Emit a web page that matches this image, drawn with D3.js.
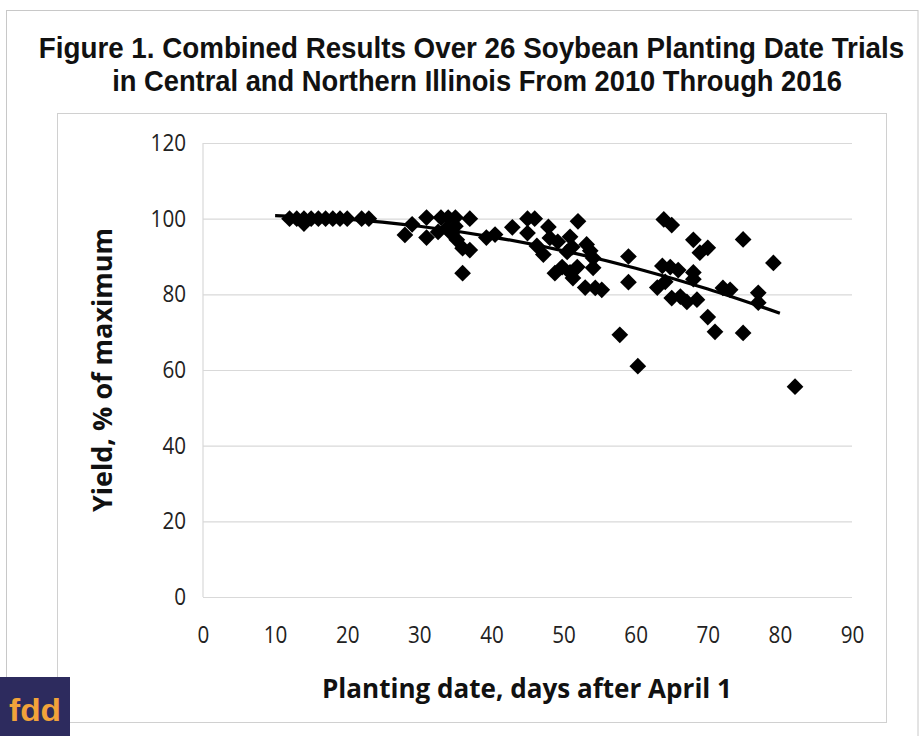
<!DOCTYPE html>
<html>
<head>
<meta charset="utf-8">
<script src="https://cdn.jsdelivr.net/npm/d3@7/dist/d3.min.js"></script>
<style>
  html, body { margin: 0; padding: 0; background: #fff; }
  svg { display: block; }
</style>
</head>
<body>
<svg id="chart" width="924" height="736"></svg>
<script>
// Planting date (days after April 1) and relative yield (% of maximum) per trial entry
const plantingDays = [
  12, 13, 14, 14, 15, 16, 17, 18, 19, 20, 22, 23,
  28, 29, 31, 31, 32.6, 33, 34, 33.8, 35, 37, 35.2, 36, 37, 36, 39.3, 40.5, 34.5, 35,
  42.9, 45, 46, 45, 47.9, 52, 46.3, 47.2, 48.1, 49.2, 50.9, 51.2, 50.5, 53.2, 53.7, 54.1,
  48.8, 49.8, 50.9, 51.9, 51.3, 54.1, 53, 54.4, 55.3,
  57.8, 59, 59, 60.3, 63.9, 65, 68, 68.9, 70, 74.9, 79.1, 63.7, 64.8, 65.9, 68, 63, 64.1,
  68, 65, 66.2, 67.1, 68.5, 70, 71, 72.1, 73.1, 77, 77, 74.9, 82.1
];
const yieldPct = [
  100, 100, 100, 98.7, 100, 100, 100, 100, 100, 100, 100, 100,
  95.7, 98.5, 100.3, 95, 96.5, 100.3, 100.3, 97.5, 100.3, 100, 94.4, 92.2, 91.7, 85.6, 95, 95.8, 96, 98,
  97.7, 100, 100, 96.2, 97.8, 99.3, 92.8, 90.5, 94.9, 93.9, 95.2, 92.5, 91.2, 93.2, 91.5, 89.6,
  85.6, 87.2, 85.8, 87.2, 84.3, 87, 81.8, 81.7, 81.2,
  69.3, 90, 83.2, 61, 99.8, 98.3, 94.4, 91, 92.3, 94.5, 88.3, 87.5, 87.2, 86.4, 85.8, 81.8, 83.3,
  84, 79, 79.4, 78, 78.6, 74, 70.1, 81.7, 81.2, 80.4, 77.8, 69.8, 55.6
];

// Fitted trend curve, read at 10-day steps
const trendDays = [10, 20, 30, 40, 50, 60, 70, 80];
const trendYield = [100.8, 99.9, 98.0, 95.2, 91.5, 86.9, 81.4, 75.0];

// Axis ticks
const xTicks = [0, 10, 20, 30, 40, 50, 60, 70, 80, 90];
const yTicks = [0, 20, 40, 60, 80, 100, 120];

const titleLines = [
  "Figure 1. Combined Results Over 26 Soybean Planting Date Trials",
  "in Central and Northern Illinois From 2010 Through 2016"
];
const xTitle = "Planting date, days after April 1";
const yTitle = "Yield, % of maximum";

const svg = d3.select("#chart");

// Outer frame and inner chart box
svg.append("rect").attr("x", 6.5).attr("y", 10.5).attr("width", 911.5).attr("height", 740)
  .attr("fill", "#fff").attr("stroke", "#c8c8c8").attr("stroke-width", 1);
svg.append("rect").attr("x", 57.5).attr("y", 113.5).attr("width", 829).attr("height", 609)
  .attr("fill", "#fff").attr("stroke", "#d0d0d0").attr("stroke-width", 1);

// Title: bold face, squeezed horizontally to a condensed width
const titleFont = "'Liberation Sans Narrow', 'Liberation Sans', Arial, sans-serif";
const titleSpecs = [
  { cx: 471.5, y: 58, w: 866 },
  { cx: 477, y: 91, w: 730 }
];
titleLines.forEach((t, i) => {
  const g = svg.append("g");
  const txt = g.append("text")
    .attr("x", 0).attr("y", 0)
    .attr("text-anchor", "middle")
    .attr("font-family", titleFont).attr("font-weight", "bold")
    .attr("font-size", 29).attr("fill", "#111")
    .text(t);
  const natural = txt.node().getComputedTextLength();
  const sx = titleSpecs[i].w / natural;
  g.attr("transform", `translate(${titleSpecs[i].cx},${titleSpecs[i].y}) scale(${sx},1)`);
});

// Scales
const x = d3.scaleLinear().domain([0, 90]).range([203, 852]);
const y = d3.scaleLinear().domain([0, 120]).range([597, 143]);

const tickFont = "'Open Sans', Lato, sans-serif";
const digitWidth = 11.8;

// Horizontal gridlines
const yAxis = d3.axisLeft(y).tickValues(yTicks).tickSize(-(x.range()[1] - x.range()[0])).tickPadding(17);
const gy = svg.append("g").attr("transform", `translate(${x.range()[0]},0)`).call(yAxis);
gy.select(".domain").remove();
gy.selectAll(".tick line").attr("stroke", "#d9d9d9").attr("stroke-width", 1.2);
gy.selectAll(".tick text").attr("font-family", tickFont).attr("font-size", 23).attr("fill", "#222")
  .attr("textLength", d => String(d).length * digitWidth).attr("lengthAdjust", "spacingAndGlyphs");

// Vertical axis line
svg.append("line").attr("x1", x(0)).attr("x2", x(0)).attr("y1", y(120)).attr("y2", y(0))
  .attr("stroke", "#d9d9d9").attr("stroke-width", 1.2);

// X axis tick labels
const xAxis = d3.axisBottom(x).tickValues(xTicks).tickSize(0).tickPadding(30);
const gx = svg.append("g").attr("transform", `translate(0,${y(0)})`).call(xAxis);
gx.select(".domain").remove();
gx.selectAll(".tick text").attr("font-family", tickFont).attr("font-size", 23).attr("fill", "#222")
  .attr("textLength", d => String(d).length * digitWidth).attr("lengthAdjust", "spacingAndGlyphs");

// Axis titles
const axisTitleFont = "'Open Sans', Lato, sans-serif";
svg.append("text").attr("x", 527).attr("y", 698).attr("text-anchor", "middle")
  .attr("font-family", axisTitleFont).attr("font-weight", "bold").attr("font-size", 26)
  .attr("fill", "#111").attr("textLength", 410).attr("lengthAdjust", "spacingAndGlyphs")
  .text(xTitle);
svg.append("text").attr("transform", "translate(112,370) rotate(-90)").attr("text-anchor", "middle")
  .attr("font-family", axisTitleFont).attr("font-weight", "bold").attr("font-size", 26)
  .attr("fill", "#111").attr("textLength", 284).attr("lengthAdjust", "spacingAndGlyphs")
  .text(yTitle);

// Data points as diamonds
const points = plantingDays.map((d, i) => ({ d, v: yieldPct[i] }));
const diamond = d3.symbol().type(d3.symbolSquare).size(140);
svg.append("g").selectAll("path").data(points).join("path")
  .attr("d", diamond)
  .attr("transform", p => `translate(${x(p.d)},${y(p.v)}) rotate(45)`)
  .attr("fill", "#000");

// Trend curve
const trend = trendDays.map((d, i) => ({ d, v: trendYield[i] }));
svg.append("path").datum(trend)
  .attr("d", d3.line().x(p => x(p.d)).y(p => y(p.v)).curve(d3.curveMonotoneX))
  .attr("fill", "none").attr("stroke", "#000").attr("stroke-width", 3.2);

// Logo badge
svg.append("rect").attr("x", 0).attr("y", 677).attr("width", 70).attr("height", 59).attr("fill", "#2d2b5e");
svg.append("text").attr("x", 35).attr("y", 721).attr("text-anchor", "middle")
  .attr("font-family", "'Liberation Sans', Arial, sans-serif").attr("font-weight", "bold")
  .attr("font-size", 32).attr("fill", "#f2a33a").attr("textLength", 52).attr("lengthAdjust", "spacingAndGlyphs")
  .text("fdd");
</script>
</body>
</html>
